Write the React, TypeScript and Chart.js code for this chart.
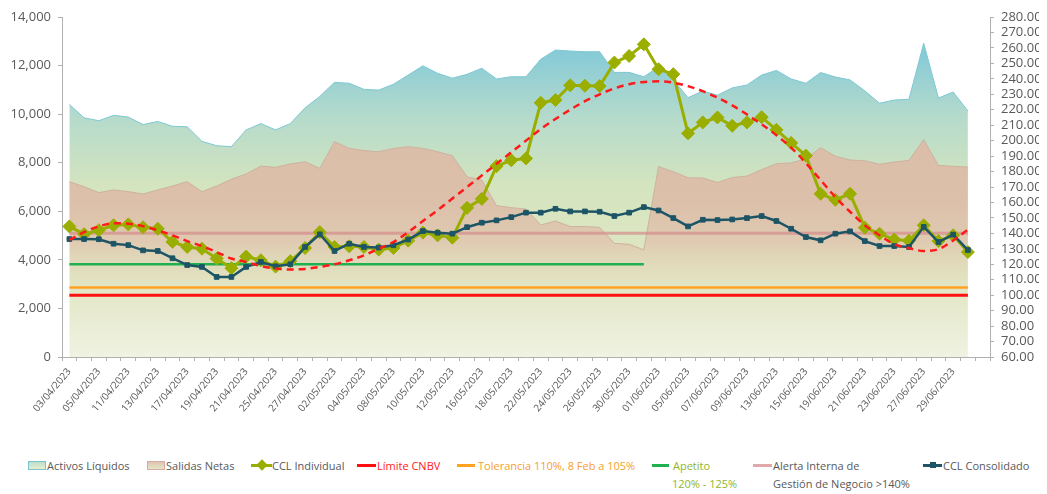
import React, { useEffect, useRef } from 'react';
import { Chart, registerables } from 'chart.js';

Chart.register(...registerables);

// ---------- DATA ----------
const fechas = [
  '03/04/2023', '04/04/2023', '05/04/2023', '10/04/2023', '11/04/2023', '12/04/2023', '13/04/2023', '14/04/2023',
  '17/04/2023', '18/04/2023', '19/04/2023', '20/04/2023', '21/04/2023', '24/04/2023', '25/04/2023', '26/04/2023',
  '27/04/2023', '28/04/2023',
  '02/05/2023', '03/05/2023', '04/05/2023', '05/05/2023', '08/05/2023', '09/05/2023', '10/05/2023', '11/05/2023',
  '12/05/2023', '15/05/2023', '16/05/2023', '17/05/2023', '18/05/2023', '19/05/2023', '22/05/2023', '23/05/2023',
  '24/05/2023', '25/05/2023', '26/05/2023', '29/05/2023', '30/05/2023', '31/05/2023',
  '01/06/2023', '02/06/2023', '05/06/2023', '06/06/2023', '07/06/2023', '08/06/2023', '09/06/2023', '12/06/2023',
  '13/06/2023', '14/06/2023', '15/06/2023', '16/06/2023', '19/06/2023', '20/06/2023', '21/06/2023', '22/06/2023',
  '23/06/2023', '26/06/2023', '27/06/2023', '28/06/2023', '29/06/2023', '30/06/2023',
  '',
];

const activosLiquidos = [
  10400, 9850, 9730, 9950, 9880, 9570, 9700, 9500, 9480, 8880, 8700, 8660, 9350, 9610, 9350, 9610,
  10260, 10730, 11310, 11270, 11020, 10990, 11230, 11610, 11990, 11680, 11480, 11640, 11890, 11450, 11540, 11540,
  12260, 12640, 12600, 12570, 12570, 11720, 11720, 11540, 11950, 11410, 10680, 10950, 10780, 11080, 11200, 11610,
  11800, 11450, 11270, 11715, 11530, 11410, 10960, 10450, 10580, 10615, 12920, 10665, 10910, 10130,
];

const salidasNetas = [
  7220, 7010, 6770, 6880, 6810, 6710, 6880, 7040, 7220, 6810, 7040, 7320, 7540, 7860, 7810, 7950,
  8040, 7770, 8870, 8590, 8500, 8450, 8590, 8660, 8590, 8450, 8290, 7420, 7290, 6230, 6150, 6090,
  5440, 5600, 5370, 5370, 5340, 4680, 4640, 4410, 7840, 7630, 7380, 7370, 7190, 7390, 7450, 7720,
  7960, 7990, 8160, 8620, 8270, 8110, 8080, 7935, 8030, 8100, 8950, 7890, 7850, 7820,
];

const cclIndividual = [
  144.5, 139.5, 142, 145.2, 145.8, 144, 143, 134.5, 131.2, 130.1, 123.7, 117.5, 125, 122.6, 118.5, 122,
  130.5, 140.8, 131.2, 131.6, 131.2, 129.5, 130.5, 135.3, 140.5, 138.7, 137.2, 156.5, 162.3, 183.5, 187.3, 188.5,
  224.5, 226.3, 235.8, 235.5, 235.3, 250.5, 254.8, 262.3, 246.2, 243, 204.7, 211.8, 215, 209.6, 211.8, 215.2,
  207, 198.5, 190.3, 165.6, 161.7, 165.6, 143.7, 139.8, 136, 135.2, 145.2, 135, 138.7, 127.9,
];

const cclConsolidado = [
  136.3, 136.3, 136.2, 133.3, 132.4, 129, 128.6, 123.9, 119.5, 118.3, 111.8, 111.8, 118.3, 121.5, 118.7, 120,
  131.2, 139.4, 128.6, 133.3, 131.2, 130.8, 132.3, 136, 141.5, 140.4, 139.8, 144, 146.9, 148.4, 150.5, 153.4,
  153.4, 155.9, 154.2, 154.2, 154, 151.2, 153.4, 157, 154.8, 149.9, 144.5, 148.8, 148.6, 149, 149.9, 151.2,
  148, 143, 137.6, 135.5, 139.8, 141.3, 135, 131.8, 131.8, 131.2, 144.2, 134.4, 139.2, 129.2,
];

// Tendencia (polinómica) de CCL Individual
const tendenciaCCL = [
  135.7, 140.8, 144.5, 146.6, 146.2, 144.7, 141.9, 138.7, 135, 131.8, 127.9, 123.7, 121.5, 118.9, 117.2, 116.6,
  117, 118.3, 120, 122.6, 125.8, 130.1, 134.4, 140.8, 148, 155, 162.5, 170, 177.5, 185, 192.5, 200,
  207.5, 214, 220, 225.5, 230, 233.8, 236.5, 238, 238.4, 237.5, 235.3, 232, 227.8, 222.8, 217, 210.5,
  203.5, 195.5, 185.5, 174.5, 163.5, 154, 145.3, 138.8, 133, 130.4, 128.6, 129.8, 135.4, 142.5,
];

const LIMITE_CNBV = 100;
const TOLERANCIA = 105;
const APETITO = 120;
const APETITO_HASTA = '31/05/2023';
const ALERTA_INTERNA = 140;

const EJE_IZQ = { min: 0, max: 14000, paso: 2000 };
const EJE_DER = { min: 60, max: 280, paso: 10 };

// ---------- STYLE ----------
const FONT = "'Open Sans', 'DejaVu Sans', sans-serif";
const GRIS = '#595959';
const EJE = '#b0b0b0';
const OLIVA = '#9aae00';
const TEAL = '#1d5566';

function gradiente(stops: [number, string][]) {
  return (context: any) => {
    const chart = context.chart;
    const area = chart.chartArea;
    if (!area) return 'rgba(0,0,0,0)';
    const g = chart.ctx.createLinearGradient(0, area.top, 0, area.bottom);
    stops.forEach(([o, c]) => g.addColorStop(o, c));
    return g;
  };
}

const nPuntos = activosLiquidos.length;
const constante = (v: number) => fechas.slice(0, nPuntos).map(() => v);
const apetitoIdx = fechas.indexOf(APETITO_HASTA);

export default function App() {
  const canvasRef = useRef<HTMLCanvasElement | null>(null);

  useEffect(() => {
    document.body.style.margin = '8px 8px 0 8px';
    const canvas = canvasRef.current;
    if (!canvas) return;
    Chart.defaults.font.family = FONT;

    const sinPaddingVertical = (s: any, w: number) => {
      s.width = w;
      s.paddingTop = 0;
      s.paddingBottom = 0;
    };

    const chart = new Chart(canvas, {
      type: 'line',
      data: {
        labels: fechas,
        datasets: [
          {
            label: 'Activos Líquidos',
            data: activosLiquidos,
            yAxisID: 'y',
            fill: 'origin',
            borderColor: 'rgb(125,200,212)',
            borderWidth: 1,
            pointRadius: 0,
            order: 20,
            backgroundColor: gradiente([
              [0, 'rgb(118,196,212)'],
              [0.12, 'rgb(138,204,214)'],
              [0.3, 'rgb(182,219,203)'],
              [0.5, 'rgb(212,228,190)'],
              [0.75, 'rgb(224,232,196)'],
              [1, 'rgb(240,242,226)'],
            ]),
          },
          {
            label: 'Salidas Netas',
            data: salidasNetas,
            yAxisID: 'y',
            fill: 'origin',
            borderColor: 'rgb(205,178,160)',
            borderWidth: 1,
            pointRadius: 0,
            order: 19,
            backgroundColor: gradiente([
              [0, 'rgba(216,186,166,1)'],
              [0.55, 'rgba(220,192,170,1)'],
              [0.66, 'rgba(224,200,176,0.92)'],
              [0.8, 'rgba(226,222,188,0.35)'],
              [1, 'rgba(236,238,215,0)'],
            ]),
          },
          {
            label: 'Alerta Interna de Gestión de Negocio >140%',
            data: constante(ALERTA_INTERNA),
            yAxisID: 'y1',
            borderColor: 'rgba(212,140,140,0.7)',
            borderWidth: 3,
            pointRadius: 0,
            fill: false,
            order: 15,
          },
          {
            label: 'Apetito 120% - 125%',
            data: constante(APETITO).map((v, i) => (i <= apetitoIdx ? v : null)),
            yAxisID: 'y1',
            borderColor: '#1fb050',
            borderWidth: 2.5,
            pointRadius: 0,
            fill: false,
            order: 14,
          },
          {
            label: 'Tolerancia 110%, 8 Feb a 105%',
            data: constante(TOLERANCIA),
            yAxisID: 'y1',
            borderColor: '#ffa21f',
            borderWidth: 2.5,
            pointRadius: 0,
            fill: false,
            order: 13,
          },
          {
            label: 'Límite CNBV',
            data: constante(LIMITE_CNBV),
            yAxisID: 'y1',
            borderColor: '#ff1010',
            borderWidth: 3,
            pointRadius: 0,
            fill: false,
            order: 12,
          },
          {
            label: 'CCL Individual',
            data: cclIndividual,
            yAxisID: 'y1',
            borderColor: OLIVA,
            backgroundColor: OLIVA,
            borderWidth: 3,
            pointStyle: 'rectRot',
            pointRadius: 6.5,
            pointBorderWidth: 1,
            fill: false,
            order: 4,
          },
          {
            label: 'CCL Consolidado',
            data: cclConsolidado,
            yAxisID: 'y1',
            borderColor: TEAL,
            backgroundColor: TEAL,
            borderWidth: 2.5,
            pointStyle: 'rect',
            pointRadius: 3.3,
            pointBorderWidth: 1,
            fill: false,
            order: 3,
          },
          {
            label: 'Tendencia',
            data: tendenciaCCL,
            yAxisID: 'y1',
            borderColor: '#ff1a1a',
            borderWidth: 2.5,
            borderDash: [7, 5],
            pointRadius: 0,
            cubicInterpolationMode: 'monotone',
            fill: false,
            order: 1,
          },
        ],
      },
      options: {
        responsive: false,
        animation: false,
        devicePixelRatio: 1,
        layout: { padding: { top: 9, left: 0, right: 0, bottom: 0 } },
        plugins: {
          legend: { display: false },
          tooltip: { enabled: false },
        },
        scales: {
          x: {
            type: 'category',
            offset: true,
            grid: { display: true, drawOnChartArea: false, offset: true, tickLength: 4, color: EJE },
            border: { display: true, color: EJE },
            ticks: {
              autoSkip: false,
              minRotation: 50,
              maxRotation: 50,
              padding: 5,
              color: GRIS,
              font: { size: 10 },
              callback: (_v: any, i: number) => (i % 2 === 0 ? fechas[i] : ''),
            },
            afterFit: (s: any) => {
              s.height = 81;
            },
          },
          y: {
            position: 'left',
            min: EJE_IZQ.min,
            max: EJE_IZQ.max,
            grid: { drawOnChartArea: false, tickLength: 4, color: EJE },
            border: { display: true, color: EJE },
            ticks: {
              stepSize: EJE_IZQ.paso,
              autoSkip: false,
              color: GRIS,
              padding: 7,
              font: { size: 13 },
              callback: (v: any) => Number(v).toLocaleString('en-US'),
            },
            afterFit: (s: any) => sinPaddingVertical(s, 54),
          },
          y1: {
            position: 'right',
            min: EJE_DER.min,
            max: EJE_DER.max,
            grid: { drawOnChartArea: false, tickLength: 4, color: EJE },
            border: { display: true, color: EJE },
            ticks: {
              stepSize: EJE_DER.paso,
              autoSkip: false,
              color: GRIS,
              padding: 7,
              font: { size: 13 },
              callback: (v: any) => Number(v).toFixed(2),
            },
            afterFit: (s: any) => sinPaddingVertical(s, 49),
          },
        },
      },
    } as any);
    return () => chart.destroy();
  }, []);

  const txt: React.CSSProperties = {
    position: 'absolute',
    fontFamily: FONT,
    fontSize: 11,
    lineHeight: '15px',
    color: GRIS,
    whiteSpace: 'nowrap',
  };
  const row1 = 449.5;
  const row2 = 467.5;
  const line = (left: number, width: number, color: string, h = 3): React.CSSProperties => ({
    position: 'absolute',
    left,
    top: 457 - h / 2,
    width,
    height: h,
    background: color,
  });

  return (
    <div style={{ position: 'relative', width: 1031, height: 486, overflow: 'hidden' }}>
      <canvas ref={canvasRef} width={1031} height={430} style={{ display: 'block' }} />

      {/* Activos Líquidos */}
      <div
        style={{
          position: 'absolute', left: 20, top: 453, width: 16, height: 7,
          border: '1px solid rgb(120,196,210)',
          background: 'linear-gradient(rgb(190,222,205), rgb(232,238,205))',
        }}
      />
      <div style={{ ...txt, left: 39, top: row1 }}>Activos Líquidos</div>

      {/* Salidas Netas */}
      <div
        style={{
          position: 'absolute', left: 139, top: 453, width: 16, height: 7,
          border: '1px solid rgb(215,170,165)',
          background: 'linear-gradient(rgb(222,196,176), rgb(228,230,200))',
        }}
      />
      <div style={{ ...txt, left: 158, top: row1 }}>Salidas Netas</div>

      {/* CCL Individual */}
      <div style={line(243, 21, OLIVA)} />
      <div
        style={{
          position: 'absolute', left: 249.5, top: 453, width: 8, height: 8,
          background: OLIVA, transform: 'rotate(45deg)',
        }}
      />
      <div style={{ ...txt, left: 264, top: row1 }}>CCL Individual</div>

      {/* Límite CNBV */}
      <div style={line(349, 19, '#ff1010')} />
      <div style={{ ...txt, left: 369, top: row1, color: '#ff1a1a' }}>Límite CNBV</div>

      {/* Tolerancia */}
      <div style={line(449, 18, '#ffa21f')} />
      <div style={{ ...txt, left: 470, top: row1, color: '#f5a030' }}>Tolerancia 110%, 8 Feb a 105%</div>

      {/* Apetito */}
      <div style={line(644, 17, '#1fb050')} />
      <div style={{ ...txt, left: 665, top: row1, color: '#8fb52a' }}>Apetito</div>
      <div style={{ ...txt, left: 664, top: row2, color: '#8fb52a' }}>120% - 125%</div>

      {/* Alerta Interna */}
      <div style={line(745, 19, 'rgba(212,140,140,0.75)')} />
      <div style={{ ...txt, left: 765, top: row1 }}>Alerta Interna de</div>
      <div style={{ ...txt, left: 765, top: row2 }}>Gestión de Negocio &gt;140%</div>

      {/* CCL Consolidado */}
      <div style={line(915, 19, TEAL)} />
      <div
        style={{
          position: 'absolute', left: 922, top: 454, width: 6, height: 6, background: TEAL,
        }}
      />
      <div style={{ ...txt, left: 935, top: row1 }}>CCL Consolidado</div>
    </div>
  );
}
